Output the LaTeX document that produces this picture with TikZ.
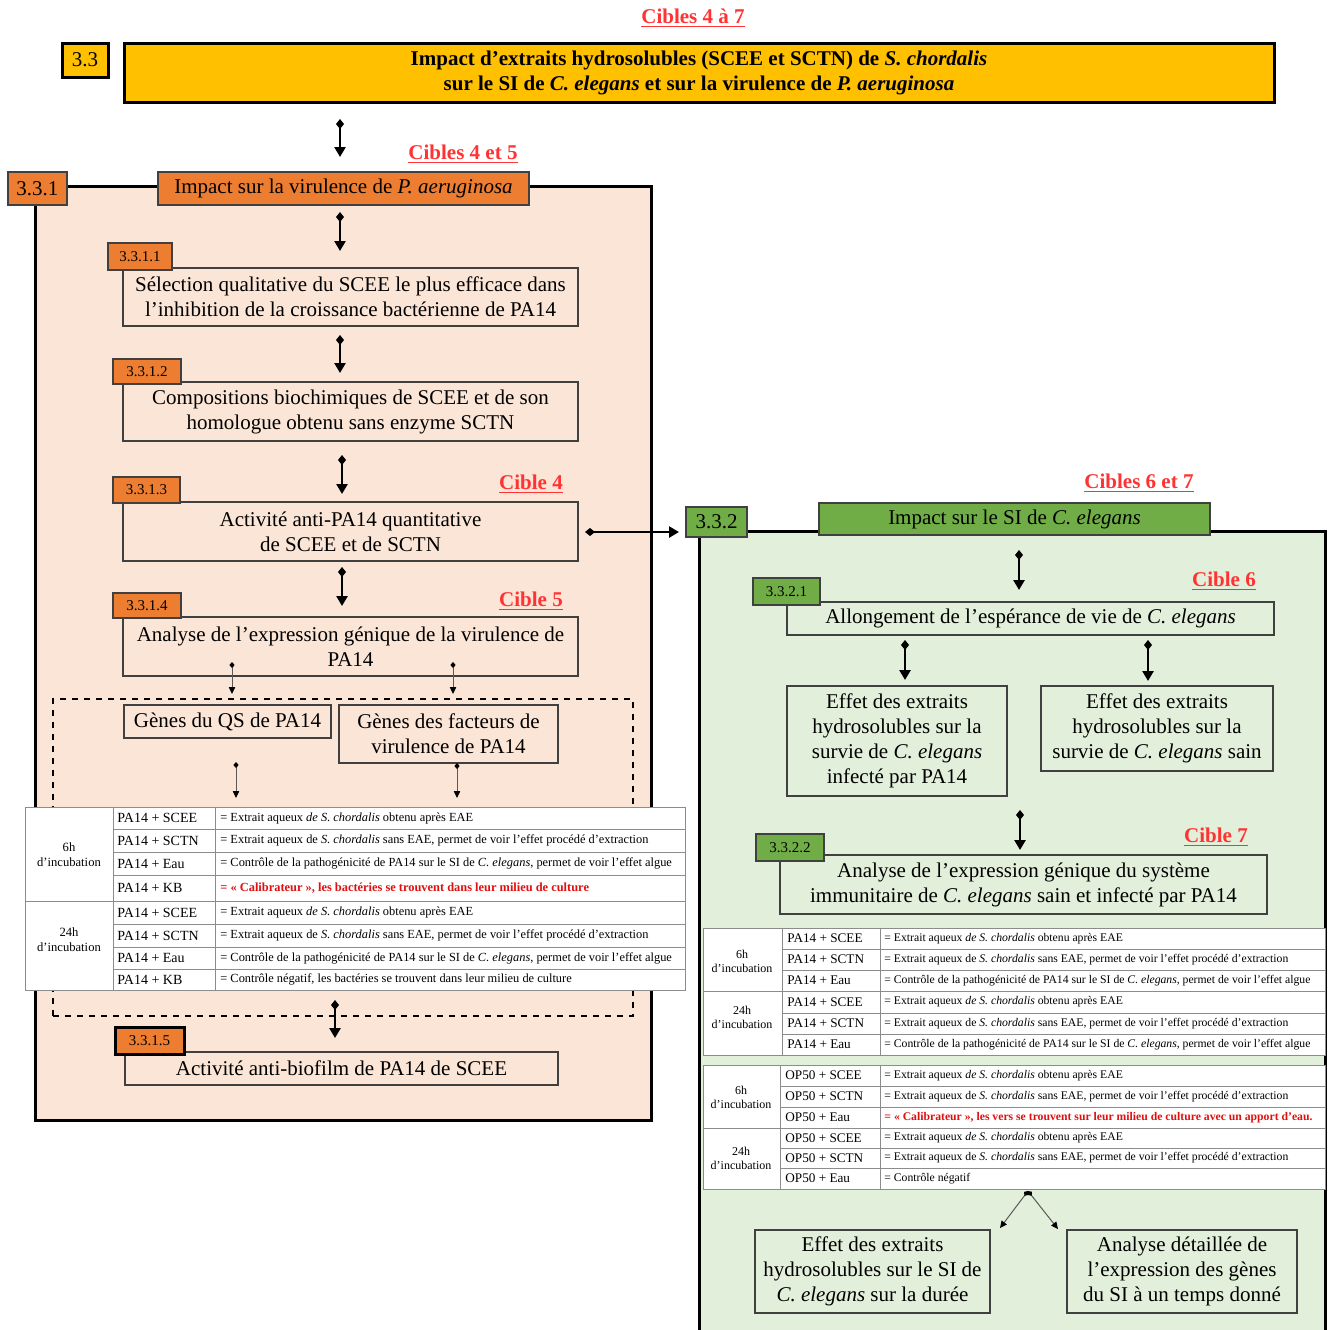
\documentclass[tikz,border=0pt]{standalone}
\usepackage{fontspec}
\setmainfont{Liberation Serif}
\usetikzlibrary{arrows.meta,calc}
\definecolor{cyel}{HTML}{FFC000}
\definecolor{corg}{HTML}{ED7D31}
\definecolor{cpeach}{HTML}{FBE5D6}
\definecolor{cgrn}{HTML}{70AD47}
\definecolor{clgrn}{HTML}{E2EFDA}
\definecolor{cred}{HTML}{FF3333}
\definecolor{credb}{HTML}{E01010}
\definecolor{cbord}{HTML}{404040}
\newcommand\fmain{\fontsize{10.5}{12.5}\selectfont}
\newcommand\flab{\fontsize{7.5}{9}\selectfont}
\newcommand\ltrow[5]{% name, y, col2, col3, fontset
  \node[#5a, anchor=west] (#1a) at (117,#2) {#3};
  \node[#5b, anchor=west] (#1b) at (220,#2) {#4};}
\newcommand\rtrow[5]{% name, y, col2 x, col2, col3
  \node[rc2, anchor=west] (#1a) at (#3,#2) {#4};
  \node[rc3, anchor=west] (#1b) at (884,#2) {#5};}
\begin{document}
\begin{tikzpicture}[x=0.5pt,y=-0.5pt,
  rect/.style n args={4}{minimum width={(#3-#1)*0.5pt}, minimum height={(#4-#2)*0.5pt}, at={({(#1+#3)/2},{(#2+#4)/2})}},
  box/.style={draw=cbord, line width=0.6pt, inner sep=0pt, align=center, font=\fmain},
  bigl/.style={draw=cbord, line width=0.6pt, inner sep=0pt, align=center, font=\fmain},
  lab/.style={draw=cbord, line width=0.6pt, inner sep=0pt, font=\flab},
  panel/.style={draw=black, line width=1.5pt, inner sep=0pt},
  dbl/.style={line width=1.4pt, {Diamond[length=5pt,width=4pt]}-{Triangle[length=5pt,width=5.5pt]}},
  thinar/.style={line width=0.5pt, draw=black!65, {Diamond[length=3pt,width=2.6pt,black]}-{Triangle[length=3.5pt,width=3.2pt,black]}},
  cible/.style={text=cred, font=\bfseries\fontsize{10.5}{12}\selectfont, inner sep=0pt},
  tline/.style={draw=black!45, line width=0.5pt},
  lc1/.style={font=\fontsize{6.3}{7.5}\selectfont, align=center, inner sep=0pt},
  lc2a/.style={font=\fontsize{7}{8}\selectfont, inner sep=0pt},
  lc2b/.style={font=\fontsize{6.2}{7}\selectfont, inner sep=0pt},
  lreda/.style={font=\fontsize{7}{8}\selectfont, inner sep=0pt},
  lredb/.style={font=\bfseries\fontsize{6.2}{7}\selectfont, text=credb, inner sep=0pt},
  rc1/.style={font=\fontsize{6}{7}\selectfont, align=center, inner sep=0pt},
  rc2/.style={font=\fontsize{6.6}{8}\selectfont, inner sep=0pt},
  rc3/.style={font=\fontsize{5.85}{7}\selectfont, inner sep=0pt},
]
\useasboundingbox (0,0) rectangle (1331,1329);
\fill[white] (0,0) rectangle (1331,1329);

% ---------- top ----------
\node[cible] (c47) at (693,18) {\underline{Cibles 4 à 7}};
\node[bigl, fill=cyel, draw=black, line width=1.5pt, rect={62}{43}{108}{77}] (n33) {3.3};
\node[bigl, fill=cyel, draw=black, line width=1.5pt, font=\bfseries\fmain, rect={124}{43}{1274}{102}] (n33t)
  {Impact d’extraits hydrosolubles (SCEE et SCTN) de \textit{S. chordalis}\\ sur le SI de \textit{C. elegans} et sur la virulence de \textit{P. aeruginosa}};
\coordinate (a0s) at (340,119); \coordinate (a0e) at (340,157);
\draw[dbl] (a0s) -- (a0e);
\node[cible] (c45) at (463,154) {\underline{Cibles 4 et 5}};

% ---------- left panel ----------
\node[panel, fill=cpeach, rect={35}{186}{651}{1120}] (pL) {};
\node[bigl, fill=corg, rect={8}{172}{67}{205}] (n331) {3.3.1};
\node[bigl, fill=corg, rect={158}{172}{529}{205}] (n331t) {Impact sur la virulence de \textit{P. aeruginosa}};
\coordinate (a1s) at (340,212); \coordinate (a1e) at (340,251);
\draw[dbl] (a1s) -- (a1e);

\node[box, rect={123}{268}{578}{326}] (b1) {Sélection qualitative du SCEE le plus efficace dans\\ l’inhibition de la croissance bactérienne de PA14};
\node[lab, fill=corg, rect={108}{243}{172}{270}] (l1) {3.3.1.1};
\coordinate (a2s) at (340,335); \coordinate (a2e) at (340,373);
\draw[dbl] (a2s) -- (a2e);

\node[box, rect={123}{382}{578}{441}] (b2) {Compositions biochimiques de SCEE et de son\\ homologue obtenu sans enzyme SCTN};
\node[lab, fill=corg, rect={113}{359}{181}{384}] (l2) {3.3.1.2};
\coordinate (a3s) at (342,455); \coordinate (a3e) at (342,494);
\draw[dbl] (a3s) -- (a3e);

\node[box, rect={123}{502}{578}{561}] (b3) {Activité anti-PA14 quantitative\\ de SCEE et de SCTN};
\node[lab, fill=corg, rect={113}{477}{180}{503}] (l3) {3.3.1.3};
\node[cible] (c4) at (531,484) {\underline{Cible 4}};
\coordinate (a4s) at (342,567); \coordinate (a4e) at (342,606);
\draw[dbl] (a4s) -- (a4e);

\node[box, rect={123}{617}{578}{676}] (b4) {Analyse de l’expression génique de la virulence de\\ PA14};
\node[lab, fill=corg, rect={113}{593}{181}{618}] (l4) {3.3.1.4};
\node[cible] (c5) at (531,601) {\underline{Cible 5}};

\coordinate (t1s) at (232,662); \coordinate (t1e) at (232,694);
\coordinate (t2s) at (453,662); \coordinate (t2e) at (453,694);
\draw[thinar] (t1s) -- (t1e);
\draw[thinar] (t2s) -- (t2e);

\node[draw=black, dashed, line width=0.6pt, inner sep=0pt, rect={53}{699}{633}{1016}] (dsh) {};
\node[box, rect={124}{705}{331}{738}] (g1) {Gènes du QS de PA14};
\node[box, rect={339}{705}{558}{763}] (g2) {Gènes des facteurs de\\ virulence de PA14};
\coordinate (t3s) at (236,762); \coordinate (t3e) at (236,798);
\coordinate (t4s) at (457,763); \coordinate (t4e) at (457,798);
\draw[thinar] (t3s) -- (t3e);
\draw[thinar] (t4s) -- (t4e);

% left table
\draw[tline, fill=white] (25,807) rectangle (685,990);
\foreach \yy in {829,852,875,924,947,969} \draw[tline] (113,\yy) -- (685,\yy);
\draw[tline] (25,901) -- (685,901);
\draw[tline] (113,807) -- (113,990) (215,807) -- (215,990);
\node[lc1] (lg1) at (69,855) {6h\\ d’incubation};
\node[lc1] (lg2) at (69,940) {24h\\ d’incubation};
\ltrow{L1}{818}{PA14 + SCEE}{= Extrait aqueux \textit{de S. chordalis} obtenu après EAE}{lc2}
\ltrow{L2}{840.5}{PA14 + SCTN}{= Extrait aqueux de \textit{S. chordalis} sans EAE, permet de voir l’effet procédé d’extraction}{lc2}
\ltrow{L3}{863.5}{PA14 + Eau}{= Contrôle de la pathogénicité de PA14 sur le SI de \textit{C. elegans}, permet de voir l’effet algue}{lc2}
\ltrow{L4}{888}{PA14 + KB}{= « Calibrateur », les bactéries se trouvent dans leur milieu de culture}{lred}
\ltrow{L5}{912.5}{PA14 + SCEE}{= Extrait aqueux \textit{de S. chordalis} obtenu après EAE}{lc2}
\ltrow{L6}{935.5}{PA14 + SCTN}{= Extrait aqueux de \textit{S. chordalis} sans EAE, permet de voir l’effet procédé d’extraction}{lc2}
\ltrow{L7}{958}{PA14 + Eau}{= Contrôle de la pathogénicité de PA14 sur le SI de \textit{C. elegans}, permet de voir l’effet algue}{lc2}
\ltrow{L8}{979.5}{PA14 + KB}{= Contrôle négatif, les bactéries se trouvent dans leur milieu de culture}{lc2}

\coordinate (a5s) at (335,1000); \coordinate (a5e) at (335,1038);
\draw[dbl] (a5s) -- (a5e);
\node[box, rect={125}{1052}{558}{1085}] (b5) {Activité anti-biofilm de PA14 de SCEE};
\node[lab, fill=corg, draw=black, line width=1.5pt, rect={115}{1027}{184}{1054}] (l5) {3.3.1.5};

% ---------- right panel ----------
\node[cible] (c67) at (1139,483) {\underline{Cibles 6 et 7}};
\node[panel, fill=clgrn, rect={699}{531}{1325}{1345}] (pR) {};
\node[bigl, fill=cgrn, rect={686}{507}{747}{537}] (n332) {3.3.2};
\node[bigl, fill=cgrn, rect={819}{503}{1210}{535}] (n332t) {Impact sur le SI de \textit{C. elegans}};
\coordinate (hs) at (585,532); \coordinate (he) at (679,532);
\draw[dbl] (hs) -- (he);
\coordinate (a6s) at (1019,550); \coordinate (a6e) at (1019,590);
\draw[dbl] (a6s) -- (a6e);
\node[cible] (c6) at (1224,581) {\underline{Cible 6}};
\node[box, rect={787}{602}{1274}{635}] (r1) {Allongement de l’espérance de vie de \textit{C. elegans}};
\node[lab, fill=cgrn, rect={753}{578}{820}{605}] (rl1) {3.3.2.1};
\coordinate (a7s) at (905,640); \coordinate (a7e) at (905,680);
\coordinate (a8s) at (1148,640); \coordinate (a8e) at (1148,681);
\draw[dbl] (a7s) -- (a7e);
\draw[dbl] (a8s) -- (a8e);
\node[box, rect={787}{686}{1007}{796}] (r2) {Effet des extraits\\ hydrosolubles sur la\\ survie de \textit{C. elegans}\\ infecté par PA14};
\node[box, rect={1041}{686}{1273}{771}] (r3) {Effet des extraits\\ hydrosolubles sur la\\ survie de \textit{C. elegans} sain};
\coordinate (a9s) at (1020,810); \coordinate (a9e) at (1020,850);
\draw[dbl] (a9s) -- (a9e);
\node[cible] (c7) at (1216,837) {\underline{Cible 7}};
\node[box, rect={780}{855}{1267}{914}] (r4) {Analyse de l’expression génique du système\\ immunitaire de \textit{C. elegans} sain et infecté par PA14};
\node[lab, fill=cgrn, rect={756}{834}{824}{861}] (rl2) {3.3.2.2};

% right table 1
\draw[tline, fill=white] (703,928) rectangle (1325,1055);
\foreach \yy in {949,970,1013,1034} \draw[tline] (782,\yy) -- (1325,\yy);
\draw[tline] (703,991) -- (1325,991);
\draw[tline] (782,928) -- (782,1055) (880,928) -- (880,1055);
\node[rc1] (rg1) at (742,961) {6h\\ d’incubation};
\node[rc1] (rg2) at (742,1017) {24h\\ d’incubation};
\rtrow{R1}{938.5}{787}{PA14 + SCEE}{= Extrait aqueux \textit{de S. chordalis} obtenu après EAE}
\rtrow{R2}{959.5}{787}{PA14 + SCTN}{= Extrait aqueux de \textit{S. chordalis} sans EAE, permet de voir l’effet procédé d’extraction}
\rtrow{R3}{980.5}{787}{PA14 + Eau}{= Contrôle de la pathogénicité de PA14 sur le SI de \textit{C. elegans}, permet de voir l’effet algue}
\rtrow{R4}{1002}{787}{PA14 + SCEE}{= Extrait aqueux \textit{de S. chordalis} obtenu après EAE}
\rtrow{R5}{1023.5}{787}{PA14 + SCTN}{= Extrait aqueux de \textit{S. chordalis} sans EAE, permet de voir l’effet procédé d’extraction}
\rtrow{R6}{1044.5}{787}{PA14 + Eau}{= Contrôle de la pathogénicité de PA14 sur le SI de \textit{C. elegans}, permet de voir l’effet algue}

% right table 2
\draw[tline, fill=white] (703,1065) rectangle (1325,1189);
\foreach \yy in {1086,1107,1148,1168} \draw[tline] (780,\yy) -- (1325,\yy);
\draw[tline] (703,1128) -- (1325,1128);
\draw[tline] (780,1065) -- (780,1189) (880,1065) -- (880,1189);
\node[rc1] (rg3) at (741,1097) {6h\\ d’incubation};
\node[rc1] (rg4) at (741,1158) {24h\\ d’incubation};
\rtrow{S1}{1075.5}{785}{OP50 + SCEE}{= Extrait aqueux \textit{de S. chordalis} obtenu après EAE}
\rtrow{S2}{1096.5}{785}{OP50 + SCTN}{= Extrait aqueux de \textit{S. chordalis} sans EAE, permet de voir l’effet procédé d’extraction}
\rtrow{S3}{1117.5}{785}{OP50 + Eau}{\bfseries\color{credb}= « Calibrateur », les vers se trouvent sur leur milieu de culture avec un apport d’eau.}
\rtrow{S4}{1138}{785}{OP50 + SCEE}{= Extrait aqueux \textit{de S. chordalis} obtenu après EAE}
\rtrow{S5}{1158}{785}{OP50 + SCTN}{= Extrait aqueux de \textit{S. chordalis} sans EAE, permet de voir l’effet procédé d’extraction}
\rtrow{S6}{1178.5}{785}{OP50 + Eau}{= Contrôle négatif}

\coordinate (sp) at (1028,1191);
\coordinate (spl) at (1000,1228); \coordinate (spr) at (1058,1229);
\draw[thinar] (sp) -- (spl);
\draw[thinar] (sp) -- (spr);
\node[box, rect={755}{1230}{990}{1313}] (r5) {Effet des extraits\\ hydrosolubles sur le SI de\\ \textit{C. elegans} sur la durée};
\node[box, rect={1067}{1230}{1297}{1313}] (r6) {Analyse détaillée de\\ l’expression des gènes\\ du SI à un temps donné};
\end{tikzpicture}
\end{document}
